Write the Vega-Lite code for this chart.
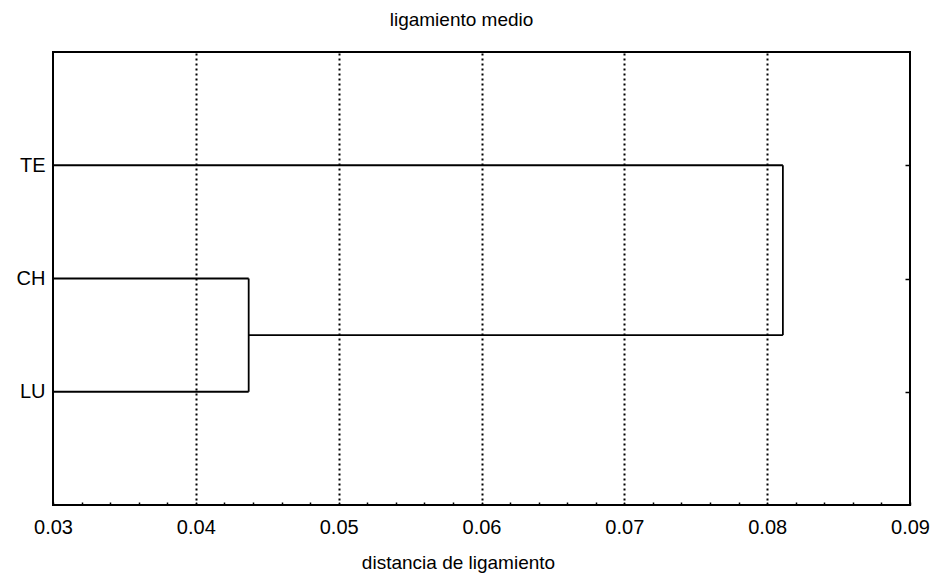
{
  "$schema": "https://vega.github.io/schema/vega-lite/v6.json",
  "width": 857,
  "height": 453,
  "autosize": "none",
  "padding": {"left": 53, "top": 52, "right": 21, "bottom": 69},
  "background": "white",
  "title": {
    "text": "ligamiento medio",
    "font": "Liberation Sans",
    "fontSize": 19,
    "fontWeight": "normal",
    "color": "black",
    "baseline": "alphabetic",
    "offset": 7,
    "frame": "group",
    "anchor": "middle",
    "dx": -20
  },
  "config": {
    "view": {"stroke": "black", "strokeWidth": 2}
  },
  "data": {
    "values": [
      {"kind": "h", "x": 0.03, "x2": 0.0811, "y": 1},
      {"kind": "h", "x": 0.03, "x2": 0.0437, "y": 2},
      {"kind": "h", "x": 0.03, "x2": 0.0437, "y": 3},
      {"kind": "h", "x": 0.0437, "x2": 0.0811, "y": 2.5},
      {"kind": "v", "x": 0.0437, "y": 2, "y2": 3},
      {"kind": "v", "x": 0.0811, "y": 1, "y2": 2.5}
    ]
  },
  "resolve": {"axis": {"y": "independent"}},
  "layer": [
    {
      "transform": [{"filter": "datum.kind == 'h'"}],
      "mark": {"type": "rule", "color": "black", "strokeWidth": 1.8},
      "encoding": {
        "x": {
          "field": "x",
          "type": "quantitative",
          "scale": {"domain": [0.03, 0.09], "nice": false, "zero": false},
          "axis": {
            "values": [0.03, 0.032, 0.034, 0.036, 0.038, 0.04, 0.042, 0.044, 0.046, 0.048, 0.05, 0.052, 0.054, 0.056, 0.058, 0.06, 0.062, 0.064, 0.066, 0.068, 0.07, 0.072, 0.074, 0.076, 0.078, 0.08, 0.082, 0.084, 0.086, 0.088, 0.09],
            "tickCount": 100,
            "labelExpr": "abs(datum.value*100 - round(datum.value*100)) < 0.01 ? format(datum.value, '.2f') : ''",
            "labelOverlap": false,
            "labelFlush": false,
            "labelPadding": 15,
            "labelFont": "Liberation Sans",
            "labelFontSize": 20,
            "labelColor": "black",
            "domain": false,
            "tickSize": -3,
            "tickWidth": 1.5,
            "tickColor": "black",
            "grid": true,
            "gridColor": "black",
            "gridDash": [2, 3],
            "gridWidth": 2,
            "gridOpacity": {
              "condition": {"test": "abs(datum.value*100 - round(datum.value*100)) < 0.01 && datum.value > 0.031 && datum.value < 0.089", "value": 1},
              "value": 0
            },
            "title": "distancia de ligamiento",
            "titleFont": "Liberation Sans",
            "titleFontSize": 19,
            "titleFontWeight": "normal",
            "titleColor": "black",
            "titleBaseline": "alphabetic",
            "titleAlign": "center",
            "titleX": 405,
            "titleY": 63
          }
        },
        "x2": {"field": "x2"},
        "y": {
          "field": "y",
          "type": "quantitative",
          "scale": {"domain": [0, 4], "reverse": true, "nice": false, "zero": false},
          "axis": {
            "values": [1, 2, 3],
            "labelExpr": "datum.value == 1 ? 'TE' : datum.value == 2 ? 'CH' : 'LU'",
            "labelFont": "Liberation Sans",
            "labelFontSize": 20,
            "labelColor": "black",
            "ticks": false,
            "domain": false,
            "grid": false,
            "labelPadding": 8,
            "title": null
          }
        }
      }
    },
    {
      "transform": [{"filter": "datum.kind == 'v'"}],
      "mark": {"type": "rule", "color": "black", "strokeWidth": 1.8},
      "encoding": {
        "x": {"field": "x", "type": "quantitative"},
        "y": {
          "field": "y",
          "type": "quantitative",
          "axis": {
            "orient": "right",
            "values": [1, 2, 3],
            "labels": false,
            "ticks": true,
            "tickSize": -5,
            "tickWidth": 1.5,
            "tickColor": "black",
            "domain": false,
            "grid": false,
            "title": null
          }
        },
        "y2": {"field": "y2"}
      }
    }
  ]
}
